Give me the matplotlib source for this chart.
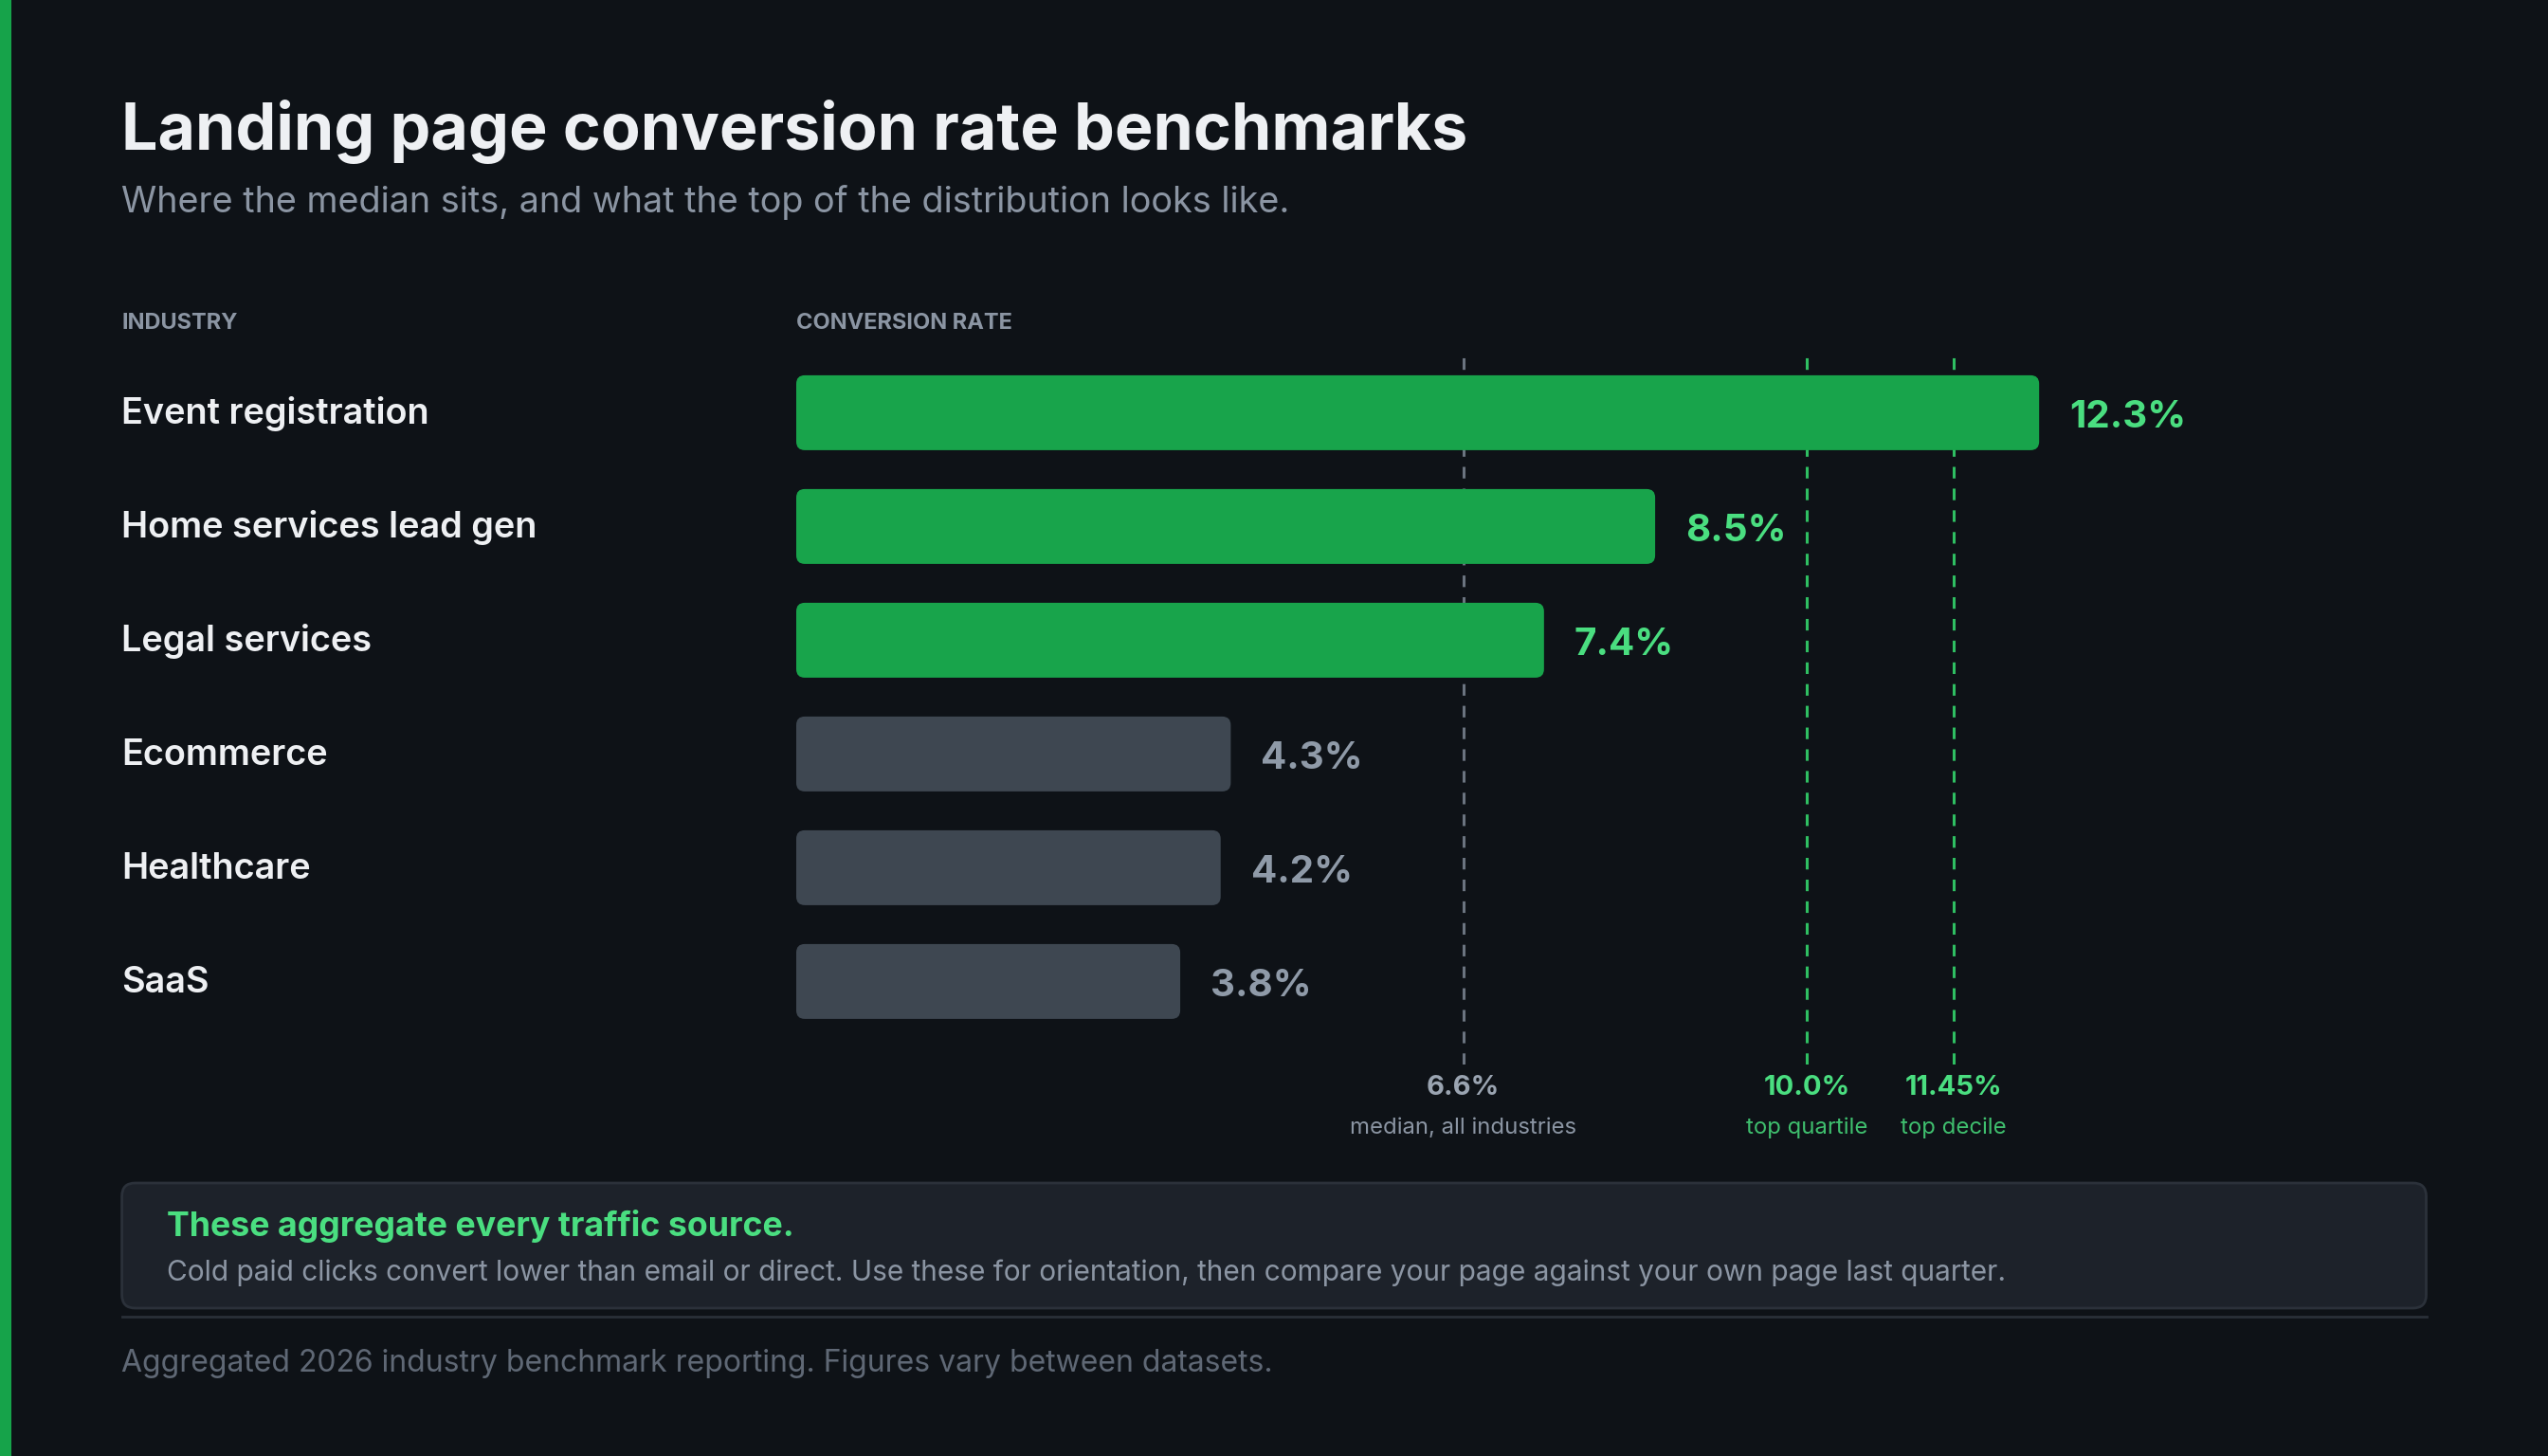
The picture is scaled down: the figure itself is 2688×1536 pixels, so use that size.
import matplotlib
matplotlib.use("Agg")
import matplotlib.pyplot as plt
from matplotlib.patches import FancyBboxPatch, Rectangle
import matplotlib.transforms as mtransforms

plt.rcParams['font.family'] = ['Inter', 'DejaVu Sans']

# ---------------- data ----------------
title = "Landing page conversion rate benchmarks"
subtitle = "Where the median sits, and what the top of the distribution looks like."
col_left = "INDUSTRY"
col_right = "CONVERSION RATE"
industries = ["Event registration", "Home services lead gen", "Legal services",
              "Ecommerce", "Healthcare", "SaaS"]
rates = [12.3, 8.5, 7.4, 4.3, 4.2, 3.8]
highlight = [True, True, True, False, False, False]
ref_values = [6.6, 10.0, 11.45]
ref_value_labels = ["6.6%", "10.0%", "11.45%"]
ref_names = ["median, all industries", "top quartile", "top decile"]
ref_green = [False, True, True]
note_title = "These aggregate every traffic source."
note_body = ("Cold paid clicks convert lower than email or direct. Use these for orientation, "
             "then compare your page against your own page last quarter.")
footer = "Aggregated 2026 industry benchmark reporting. Figures vary between datasets."

# ---------------- style ----------------
W, H = 2688, 1536
DPI = 100
BG = "#0e1217"
GREEN_BAR = "#18a44b"
GREY_BAR = "#3e4751"
GREEN_TXT = "#4ade80"
GREY_TXT = "#8f9aa8"
WHITE = "#eef0f3"
MUTED = "#8b95a3"

fig = plt.figure(figsize=(W / DPI, H / DPI), dpi=DPI, facecolor=BG)

def fx(px):
    return px / W

def fy(py):
    return 1 - py / H

def ftext(x, y, s, **kw):
    fig.text(fx(x), fy(y), s, va="baseline", **kw)

# left accent stripe
fig.patches.append(Rectangle((0, 0), fx(12), 1, transform=fig.transFigure,
                             facecolor="#16a34a", edgecolor="none"))

# title & subtitle
ftext(128, 158, title, fontsize=49, fontweight="bold", color=WHITE)
ftext(128, 224, subtitle, fontsize=27.2, color=MUTED)

# column headers
ftext(128, 347, col_left, fontsize=17, fontweight="bold", color=MUTED)
ftext(840, 347, col_right, fontsize=17, fontweight="bold", color=MUTED)

# ---------------- bar axes ----------------
x0_px = 840
px_per_pct = 106.6
xmax = 16.0
y_top_px, y_bot_px = 370, 1123
row0_px, row_step = 435.4, 120.0
ylim_top = (y_top_px - row0_px) / row_step
ylim_bot = (y_bot_px - row0_px) / row_step

ax = fig.add_axes([fx(x0_px), fy(y_bot_px), xmax * px_per_pct / W, (y_bot_px - y_top_px) / H])
ax.set_xlim(0, xmax)
ax.set_ylim(ylim_bot, ylim_top)
ax.axis("off")
ax.patch.set_alpha(0)

bar_h = 79 / row_step
aspect = (1 / row_step) / (1 / px_per_pct)
radius_px = 9

# reference dashed lines (behind bars)
for v, g in zip(ref_values, ref_green):
    ax.axvline(v, color="#2fbf62" if g else "#6b7480", lw=2.2,
               linestyle=(0, (4, 3.5)), zorder=1)

for i, (lab, v, hl) in enumerate(zip(industries, rates, highlight)):
    p = FancyBboxPatch((0, i - bar_h / 2), v, bar_h,
                       boxstyle=f"round,pad=0,rounding_size={radius_px / px_per_pct}",
                       mutation_aspect=aspect,
                       facecolor=GREEN_BAR if hl else GREY_BAR, edgecolor="none", zorder=2)
    ax.add_patch(p)
    ax.annotate(f"{v}%", xy=(v, i), xytext=(32, -16), textcoords="offset pixels",
                fontsize=29, fontweight="bold", color=GREEN_TXT if hl else GREY_TXT,
                va="baseline", ha="left", zorder=3)
    trans = mtransforms.blended_transform_factory(fig.transFigure, ax.transData)
    trans = mtransforms.offset_copy(trans, fig=fig, x=0, y=-12 / DPI * 72, units="points")
    ax.text(fx(128), i, lab, transform=trans, fontsize=27.3, fontweight="semibold",
            color=WHITE, va="baseline", ha="left")

# reference labels below
for v, vl, nm, g in zip(ref_values, ref_value_labels, ref_names, ref_green):
    xpx = x0_px + v * px_per_pct
    ftext(xpx, 1155, vl, fontsize=21, fontweight="bold",
          color=GREEN_TXT if g else "#9aa4b1", ha="center")
    ftext(xpx, 1196, nm, fontsize=17.2, color="#3fbf6e" if g else MUTED, ha="center")

# ---------------- note box ----------------
bx0, bx1, by0, by1 = 128.6, 2559.5, 1248, 1380
box = FancyBboxPatch((fx(bx0), fy(by1)), fx(bx1 - bx0), (by1 - by0) / H,
                     boxstyle=f"round,pad=0,rounding_size={14 / W}",
                     mutation_aspect=W / H,
                     transform=fig.transFigure, facecolor="#1d222a",
                     edgecolor="#2b313a", linewidth=2)
fig.patches.append(box)
ftext(176, 1304, note_title, fontsize=25.7, fontweight="bold", color=GREEN_TXT)
ftext(176, 1351, note_body, fontsize=21.5, color=MUTED)

# separator
fig.lines.append(plt.Line2D([fx(128.6), fx(2559.5)], [fy(1389), fy(1389)],
                            transform=fig.transFigure, color="#2a3038", lw=2))

ftext(128, 1447, footer, fontsize=23, color="#5f6875")

fig.savefig("out.png", dpi=DPI, facecolor=BG)
